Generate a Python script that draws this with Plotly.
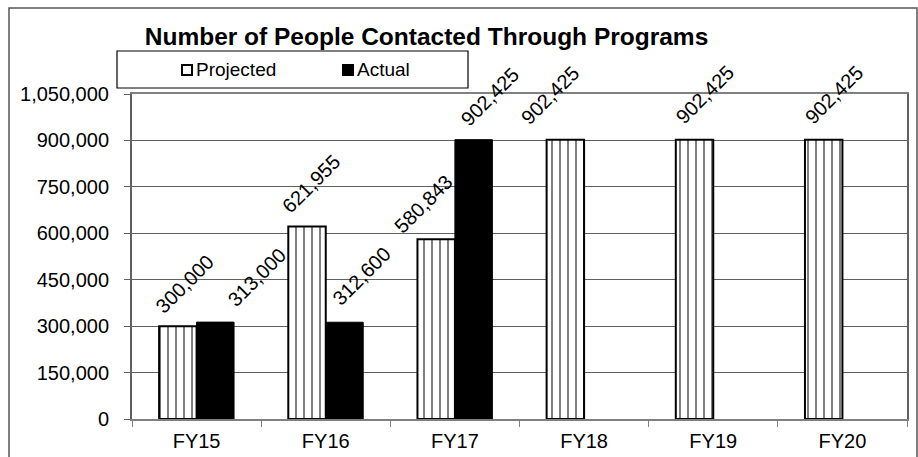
import plotly.graph_objects as go

years = ["FY15", "FY16", "FY17", "FY18", "FY19", "FY20"]
projected = [300000, 621955, 580843, 902425, 902425, 902425]
actual = [313000, 312600, 902425, None, None, None]

# Hand-placed label nudges (px right, px above the bar top)
proj_label_nudge = [(7, 7), (4, 8), (-13, 1), (-15, 10), (10, 10), (10, 10)]
act_label_nudge = [(42, 10), (17, 12), (16, 8), None, None, None]

FONT = "Liberation Sans, Arial, sans-serif"

W, H = 918, 457
L, R, T, B = 132, 11, 94, 38
pw, ph = W - L - R, H - T - B
BARGAP = 0.42
slot = pw / len(years) * (1 - BARGAP) / 2  # width of one bar in px


def px(x):
    return (x - L) / pw


def py(y):
    return (H - B - y) / ph


fig = go.Figure()
fig.add_trace(go.Bar(
    name="Projected", x=years, y=projected, showlegend=False,
    marker=dict(color="white", line=dict(color="black", width=2),
                pattern=dict(shape="|", fgcolor="black", bgcolor="white",
                             size=8, solidity=0.25, fillmode="overlay")),
))
fig.add_trace(go.Bar(
    name="Actual", x=years, y=actual, showlegend=False,
    marker=dict(color="black", line=dict(color="black", width=1)),
))

annotations = []
for vals, nudges, side in ((projected, proj_label_nudge, -1),
                           (actual, act_label_nudge, 1)):
    for cat, v, n in zip(years, vals, nudges):
        if v is None:
            continue
        dx, dy = n
        annotations.append(dict(
            x=cat, y=v, xref="x", yref="y", text=f"{v:,}", showarrow=False,
            textangle=-45, xanchor="center", yanchor="bottom",
            xshift=side * slot / 2 + dx, yshift=dy, borderpad=0,
            font=dict(family=FONT, size=20, color="black")))

# legend drawn by hand inside its framed box
legend_items = [("Projected", 181, "white"), ("Actual", 342, "black")]
shapes = [
    dict(type="rect", xref="paper", yref="paper",
         x0=px(9), x1=px(917), y0=py(460), y1=py(8),
         line=dict(color="#555", width=1.5), layer="below"),
    dict(type="rect", xref="paper", yref="paper",
         x0=px(117), x1=px(468), y0=py(88), y1=py(51),
         line=dict(color="black", width=1.2), fillcolor="white"),
]
for name, x0, fill in legend_items:
    shapes.append(dict(type="rect", xref="paper", yref="paper",
                       x0=px(x0 + 1), x1=px(x0 + 11), y0=py(75), y1=py(65),
                       line=dict(color="black", width=2), fillcolor=fill))
    annotations.append(dict(x=px(x0 + 14), y=py(69.5), xref="paper", yref="paper",
                            text=name, showarrow=False, xanchor="left",
                            yanchor="middle", borderpad=0,
                            font=dict(family=FONT, size=19, color="black")))

fig.update_layout(
    width=W, height=H,
    margin=dict(l=L, r=R, t=T, b=B, autoexpand=False),
    paper_bgcolor="white", plot_bgcolor="white",
    font=dict(family=FONT, size=20, color="black"),
    barmode="group", bargap=BARGAP, bargroupgap=0,
    title=dict(text="<b>Number of People Contacted Through Programs</b>",
               font=dict(family=FONT, size=24.5, color="black"),
               x=426.5 / W, xref="container", y=1 - 36 / H, yanchor="middle",
               xanchor="center"),
    showlegend=False,
    shapes=shapes,
    annotations=annotations,
)
fig.update_xaxes(showline=True, linecolor="#808080", linewidth=1.5, mirror=True,
                 ticks="outside", tickson="boundaries", ticklen=6,
                 tickcolor="#808080", showgrid=False, ticklabelstandoff=3,
                 automargin=False,
                 tickfont=dict(family=FONT, size=20, color="black"))
fig.update_yaxes(range=[0, 1050000], dtick=150000, tickformat=",",
                 showline=True, linecolor="#606060", linewidth=2, mirror=True,
                 ticks="outside", ticklen=6, tickcolor="#606060",
                 showgrid=True, gridcolor="#606060", gridwidth=1,
                 zeroline=False, ticklabelstandoff=11, automargin=False,
                 tickfont=dict(family=FONT, size=20, color="black"))

fig.write_html("out.html")
